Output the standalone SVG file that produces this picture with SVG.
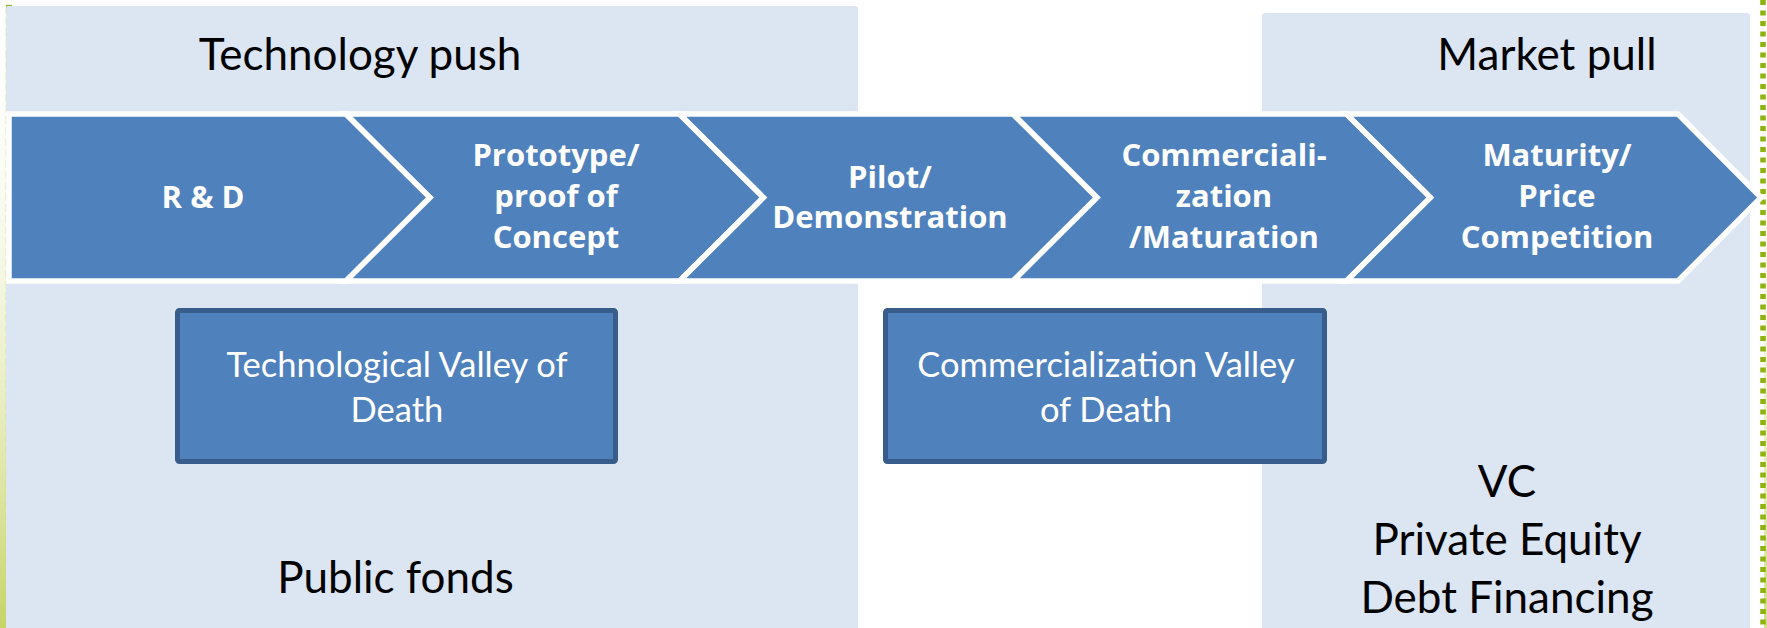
<svg xmlns="http://www.w3.org/2000/svg" width="1767" height="628" viewBox="0 0 1767 628">
<defs>
<style>
.panel{fill:#DCE6F2}
.chev{fill:#4F81BD;stroke:#FFFFFF;stroke-width:5.5;stroke-linejoin:miter}
.box{fill:#4F81BD;stroke:#385D8A;stroke-width:5}
.ct{font-family:"Open Sans","Noto Sans",sans-serif;font-weight:bold;font-size:31px;fill:#FFFFFF;text-anchor:middle}
.bt{font-family:Lato,"Open Sans",sans-serif;font-size:34.5px;fill:#FFFFFF;text-anchor:middle}
.ht{font-family:Lato,"Open Sans",sans-serif;font-size:44px;fill:#000000;text-anchor:middle}
</style>
<linearGradient id="leftGlow" x1="0" y1="0" x2="0" y2="1">
<stop offset="0" stop-color="#FFFFFF" stop-opacity="0"/>
<stop offset="1" stop-color="#C6D466"/>
</linearGradient>
<linearGradient id="rightGlow" x1="0" y1="0" x2="0" y2="1">
<stop offset="0" stop-color="#FFFFFF" stop-opacity="0"/>
<stop offset="1" stop-color="#D3DF8C"/>
</linearGradient>
</defs>
<rect width="1767" height="628" fill="#FFFFFF"/>
<g id="frame">
<rect x="0" y="6" width="6" height="622" fill="url(#leftGlow)"/>
<line x1="6.5" y1="6" x2="6.5" y2="628" stroke="#C5D86A" stroke-width="1.5" stroke-dasharray="8,3"/>
<line x1="6" y1="5.5" x2="12" y2="5.5" stroke="#9BB53A" stroke-width="1.5"/>
<rect x="1764" y="0" width="3" height="628" fill="url(#rightGlow)"/>
<line x1="1763" y1="0" x2="1763" y2="628" stroke="#8DB30F" stroke-width="5.5" stroke-dasharray="5,5.5"/>
</g>
<g id="panel-technology-push">
<rect class="panel" x="6" y="6" width="852" height="630" rx="3"/>
<text class="ht" x="360" y="70">Technology push</text>
<text class="ht" x="395.5" y="593">Public fonds</text>
</g>
<g id="panel-market-pull">
<rect class="panel" x="1262" y="13" width="488" height="620" rx="3"/>
<text class="ht" x="1547" y="70">Market pull</text>
<text class="ht" x="1507" y="497">VC</text>
<text class="ht" x="1507" y="555">Private Equity</text>
<text class="ht" x="1507" y="613">Debt Financing</text>
</g>
<g id="connectors"></g>
<g id="stage-rd">
<path class="chev" d="M9,114 H346 L430,197.5 L346,281 H9 Z"/>
<text class="ct" x="203" y="208">R &amp; D</text>
</g>
<g id="stage-prototype">
<path class="chev" d="M346,114 H679.5 L763.5,197.5 L679.5,281 H346 L430,197.5 Z"/>
<text class="ct" x="556" y="166">Prototype/</text>
<text class="ct" x="556" y="207">proof of</text>
<text class="ct" x="556" y="248">Concept</text>
</g>
<g id="stage-pilot">
<path class="chev" d="M679.5,114 H1013 L1097,197.5 L1013,281 H679.5 L763.5,197.5 Z"/>
<text class="ct" x="890" y="188">Pilot/</text>
<text class="ct" x="890" y="228">Demonstration</text>
</g>
<g id="stage-commercialization">
<path class="chev" d="M1013,114 H1346.5 L1430.5,197.5 L1346.5,281 H1013 L1097,197.5 Z"/>
<text class="ct" x="1224" y="166">Commerciali-</text>
<text class="ct" x="1224" y="207">zation</text>
<text class="ct" x="1224" y="248">/Maturation</text>
</g>
<g id="stage-maturity">
<path class="chev" d="M1346.5,114 H1678 L1761,197.5 L1678,281 H1346.5 L1430.5,197.5 Z"/>
<text class="ct" x="1557" y="166">Maturity/</text>
<text class="ct" x="1557" y="207">Price</text>
<text class="ct" x="1557" y="248">Competition</text>
</g>
<g id="tech-valley">
<rect class="box" x="177.5" y="310.5" width="438" height="151" rx="2"/>
<text class="bt" x="397" y="377">Technological Valley of</text>
<text class="bt" x="397" y="422">Death</text>
</g>
<g id="commercial-valley">
<rect class="box" x="885.5" y="310.5" width="439" height="151" rx="2"/>
<text class="bt" x="1106" y="377">Commercialization Valley</text>
<text class="bt" x="1106" y="422">of Death</text>
</g>
</svg>
